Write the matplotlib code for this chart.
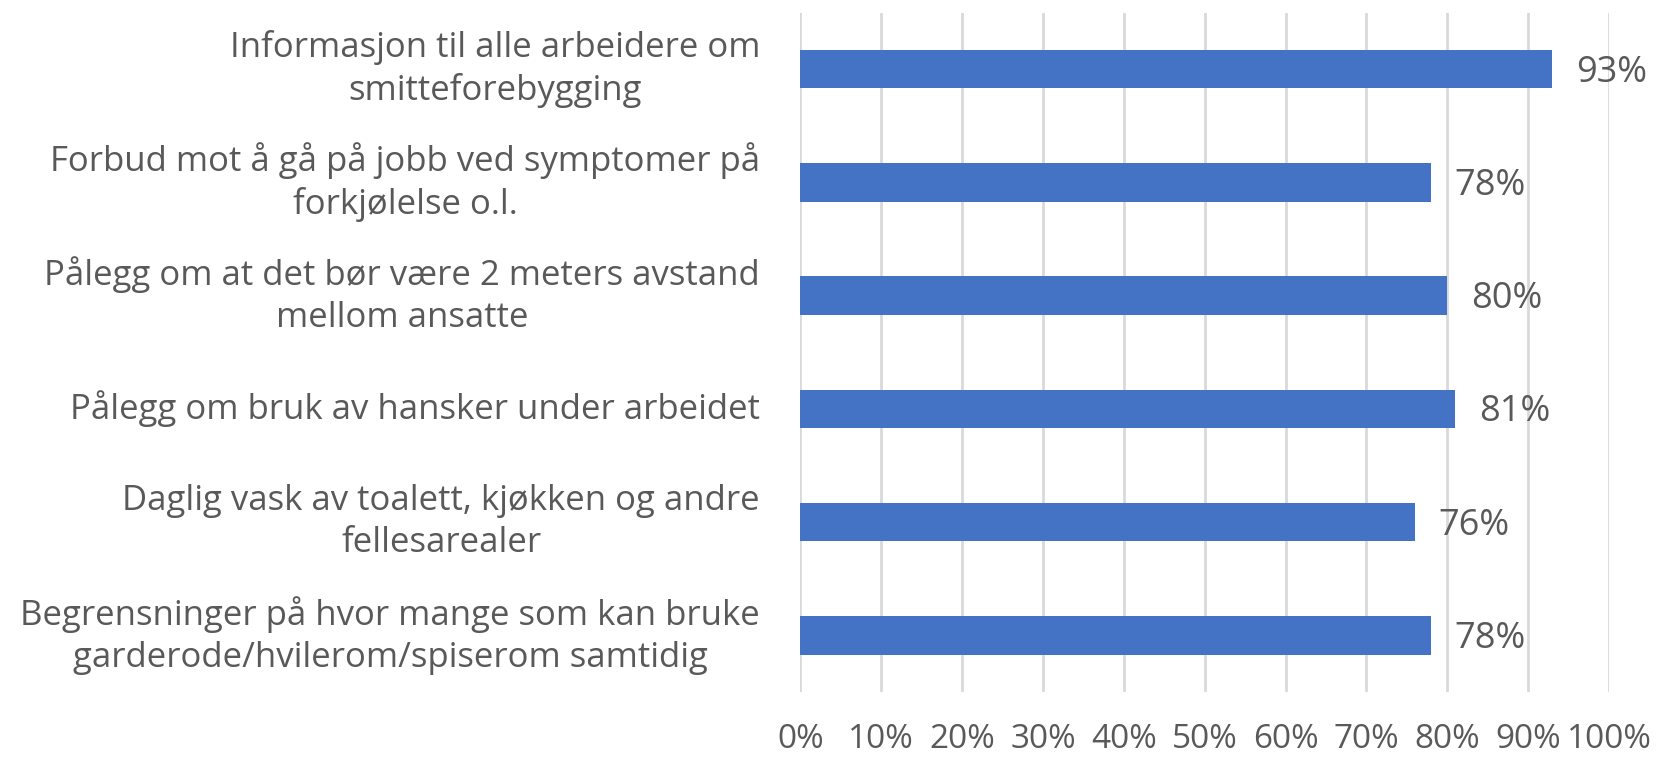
import matplotlib
matplotlib.use("Agg")
import matplotlib.pyplot as plt
from matplotlib.ticker import PercentFormatter

# Data (top to bottom)
labels = [
    "Informasjon til alle arbeidere om\nsmitteforebygging",
    "Forbud mot å gå på jobb ved symptomer på\nforkjølelse o.l.",
    "Pålegg om at det bør være 2 meters avstand\nmellom ansatte",
    "Pålegg om bruk av hansker under arbeidet",
    "Daglig vask av toalett, kjøkken og andre\nfellesarealer",
    "Begrensninger på hvor mange som kan bruke\ngarderode/hvilerom/spiserom samtidig",
]
values = [93, 78, 80, 81, 76, 78]
xticks = [0, 10, 20, 30, 40, 50, 60, 70, 80, 90, 100]

bar_color = "#4472C4"
text_color = "#595959"
grid_color = "#D9D9D9"

plt.rcParams['font.family'] = ['Open Sans', 'DejaVu Sans']

fig = plt.figure(figsize=(16.57, 7.6), dpi=100)
ax = fig.add_axes([0.483, 0.0895, 0.488, 0.894])

ypos = list(range(len(labels)))
ax.barh(ypos, values, height=0.34, color=bar_color, zorder=3)

for y, v in zip(ypos, values):
    ax.text(v + 2.9, y + 0.03, f"{v}%", va="center", ha="left", fontsize=26, color=text_color)

ax.set_xlim(0, 100)
ax.set_ylim(len(labels) - 0.5, -0.5)
ax.set_xticks(xticks)
ax.xaxis.set_major_formatter(PercentFormatter(decimals=0))
ax.set_yticks(ypos)
ax.set_yticklabels(labels, multialignment="center", linespacing=1.3)
plt.setp(ax.get_yticklabels(), va="center")

ax.tick_params(axis="x", length=0, pad=22, labelsize=24, labelcolor=text_color)
ax.tick_params(axis="y", length=0, pad=29, labelsize=25, labelcolor=text_color)
ax.grid(axis="x", color=grid_color, linewidth=2, zorder=0)
for s in ax.spines.values():
    s.set_visible(False)

fig.savefig("out.png", dpi=100)
